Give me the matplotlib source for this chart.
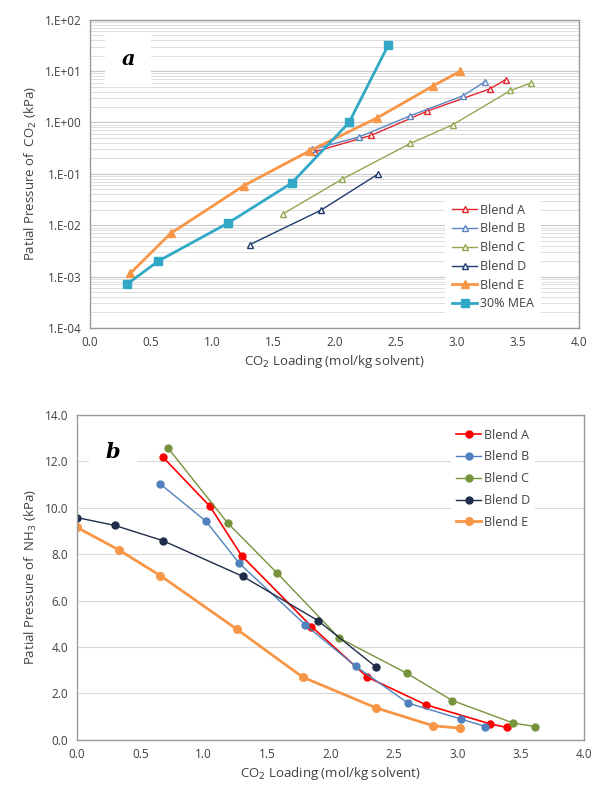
import numpy as np
import matplotlib.pyplot as plt
from matplotlib.ticker import LogLocator, FixedLocator, NullFormatter

plt.rcParams['font.family'] = ['Open Sans', 'DejaVu Sans']

# ---- panel a: CO2 partial pressure (kPa) vs CO2 loading ----
a_blend_a_x = [1.84, 2.30, 2.76, 3.27, 3.40]
a_blend_a_y = [0.27, 0.56, 1.67, 4.5, 6.8]
a_blend_b_x = [1.82, 2.20, 2.62, 3.05, 3.23]
a_blend_b_y = [0.30, 0.52, 1.35, 3.3, 6.2]
a_blend_c_x = [1.58, 2.06, 2.62, 2.97, 3.44, 3.61]
a_blend_c_y = [0.0166, 0.078, 0.39, 0.91, 4.2, 5.9]
a_blend_d_x = [1.31, 1.89, 2.36]
a_blend_d_y = [0.0042, 0.0196, 0.10]
a_blend_e_x = [0.33, 0.66, 1.26, 1.79, 2.35, 2.81, 3.03]
a_blend_e_y = [0.00115, 0.0069, 0.059, 0.275, 1.23, 5.2, 10.0]
a_mea_x = [0.30, 0.56, 1.13, 1.65, 2.12, 2.44]
a_mea_y = [0.0007, 0.0020, 0.011, 0.066, 1.0, 32.0]

# ---- panel b: NH3 partial pressure (kPa) vs CO2 loading ----
b_blend_a_x = [0.68, 1.05, 1.30, 1.85, 2.29, 2.75, 3.26, 3.39]
b_blend_a_y = [12.18, 10.06, 7.93, 4.88, 2.70, 1.51, 0.68, 0.53]
b_blend_b_x = [0.66, 1.02, 1.28, 1.80, 2.20, 2.61, 3.03, 3.22]
b_blend_b_y = [11.02, 9.41, 7.61, 4.96, 3.16, 1.58, 0.89, 0.57]
b_blend_c_x = [0.72, 1.19, 1.58, 2.07, 2.60, 2.96, 3.44, 3.61]
b_blend_c_y = [12.57, 9.34, 7.18, 4.38, 2.87, 1.69, 0.72, 0.57]
b_blend_d_x = [0.0, 0.30, 0.68, 1.31, 1.90, 2.36]
b_blend_d_y = [9.58, 9.24, 8.58, 7.04, 5.14, 3.13]
b_blend_e_x = [0.0, 0.33, 0.66, 1.26, 1.78, 2.36, 2.81, 3.02]
b_blend_e_y = [9.16, 8.19, 7.07, 4.77, 2.70, 1.37, 0.60, 0.50]

x_ticks = [0.0, 0.5, 1.0, 1.5, 2.0, 2.5, 3.0, 3.5, 4.0]
a_y_ticks = [1e-4, 1e-3, 1e-2, 1e-1, 1e0, 1e1, 1e2]
a_y_labels = ["1.E-04", "1.E-03", "1.E-02", "1.E-01", "1.E+00", "1.E+01", "1.E+02"]
b_y_ticks = [0, 2, 4, 6, 8, 10, 12, 14]

RED = "#e3262e"
BLUE = "#5a86c2"
OLIVE = "#93a850"
NAVY = "#1f3a6e"
ORANGE = "#f79646"
TEAL = "#31a9c6"
TXT = "#404040"
SPINE = "#999999"

fig = plt.figure(figsize=(5.95, 7.92), dpi=100)

# ---------------- panel a ----------------
ax1 = fig.add_axes([0.151, 0.586, 0.822, 0.389])
ax1.set_yscale("log")
ax1.set_xlim(0, 4)
ax1.set_ylim(1e-4, 1e2)
ax1.yaxis.set_major_locator(FixedLocator(a_y_ticks))
ax1.set_yticklabels(a_y_labels)
ax1.yaxis.set_minor_locator(LogLocator(base=10, subs=np.arange(2, 10)))
ax1.yaxis.set_minor_formatter(NullFormatter())
ax1.set_xticks(x_ticks)
ax1.set_xticklabels([f"{v:.1f}" for v in x_ticks])
ax1.grid(True, which="major", axis="y", color="#c8c8c8", lw=0.8)
ax1.grid(True, which="minor", axis="y", color="#dedede", lw=0.7)
ax1.set_axisbelow(True)

ax1.plot(a_blend_a_x, a_blend_a_y, color=RED, lw=1.0, marker="^", ms=5,
         mfc="white", mec=RED, mew=1.0, label="Blend A")
ax1.plot(a_blend_b_x, a_blend_b_y, color=BLUE, lw=1.0, marker="^", ms=5,
         mfc="white", mec=BLUE, mew=1.0, label="Blend B")
ax1.plot(a_blend_c_x, a_blend_c_y, color=OLIVE, lw=1.0, marker="^", ms=5,
         mfc="white", mec=OLIVE, mew=1.0, label="Blend C")
ax1.plot(a_blend_d_x, a_blend_d_y, color=NAVY, lw=1.0, marker="^", ms=5,
         mfc="white", mec=NAVY, mew=1.0, label="Blend D")
ax1.plot(a_blend_e_x, a_blend_e_y, color=ORANGE, lw=2.0, marker="^", ms=6,
         mfc=ORANGE, mec=ORANGE, label="Blend E")
ax1.plot(a_mea_x, a_mea_y, color=TEAL, lw=2.0, marker="s", ms=6,
         mfc=TEAL, mec=TEAL, label="30% MEA")

leg1 = ax1.legend(loc="lower right", bbox_to_anchor=(0.93, 0.02), frameon=True,
                  fontsize=9, handlelength=2.0, handletextpad=0.2,
                  labelspacing=0.46, borderaxespad=0.3, borderpad=0.6)
leg1.get_frame().set_edgecolor("none")
leg1.get_frame().set_facecolor("white")
leg1.get_frame().set_alpha(1.0)
for t in leg1.get_texts():
    t.set_color(TXT)

ax1.text(0.078, 0.873, "a", transform=ax1.transAxes, fontsize=15,
         fontweight="bold", fontstyle="italic", family="DejaVu Serif",
         ha="center", va="center",
         bbox=dict(facecolor="white", edgecolor="none", pad=12))

ax1.set_ylabel("Patial Pressure of  CO$_2$ (kPa)", fontsize=9.5, color=TXT)
ax1.set_xlabel("CO$_2$ Loading (mol/kg solvent)", fontsize=9.5, color=TXT,
               labelpad=3)

# ---------------- panel b ----------------
ax2 = fig.add_axes([0.129, 0.066, 0.853, 0.410])
ax2.set_xlim(0, 4)
ax2.set_ylim(0, 14)
ax2.set_xticks(x_ticks)
ax2.set_xticklabels([f"{v:.1f}" for v in x_ticks])
ax2.set_yticks(b_y_ticks)
ax2.set_yticklabels([f"{v:.1f}" for v in b_y_ticks])
ax2.grid(True, axis="y", color="#d9d9d9", lw=0.8)
ax2.set_axisbelow(True)

ax2.plot(b_blend_a_x, b_blend_a_y, color="#ff0000", lw=1.2, marker="o",
         ms=5, label="Blend A")
ax2.plot(b_blend_b_x, b_blend_b_y, color="#4f81bd", lw=1.0, marker="o",
         ms=5, label="Blend B")
ax2.plot(b_blend_c_x, b_blend_c_y, color="#77933c", lw=1.0, marker="o",
         ms=5, label="Blend C")
ax2.plot(b_blend_d_x, b_blend_d_y, color="#1f2d4a", lw=1.0, marker="o",
         ms=5, label="Blend D")
ax2.plot(b_blend_e_x, b_blend_e_y, color=ORANGE, lw=2.0, marker="o",
         ms=5.5, label="Blend E")

leg2 = ax2.legend(loc="upper right", bbox_to_anchor=(0.91, 0.985), frameon=True,
                  fontsize=9, handlelength=2.0, handletextpad=0.2,
                  labelspacing=0.7, borderaxespad=0.3)
leg2.get_frame().set_edgecolor("none")
leg2.get_frame().set_facecolor("white")
leg2.get_frame().set_alpha(1.0)
for t in leg2.get_texts():
    t.set_color(TXT)

ax2.text(0.071, 0.886, "b", transform=ax2.transAxes, fontsize=15,
         fontweight="bold", fontstyle="italic", family="DejaVu Serif",
         ha="center", va="center",
         bbox=dict(facecolor="white", edgecolor="none", pad=12))

ax2.set_ylabel("Patial Pressure of  NH$_3$ (kPa)", fontsize=9.5, color=TXT)
ax2.set_xlabel("CO$_2$ Loading (mol/kg solvent)", fontsize=9.5, color=TXT,
               labelpad=3)

for ax in (ax1, ax2):
    for s in ax.spines.values():
        s.set_color(SPINE)
        s.set_linewidth(1.0)
    ax.tick_params(axis="both", which="both", length=0, labelsize=8.5,
                   colors=TXT, pad=6)

fig.savefig("out.png", dpi=100)
